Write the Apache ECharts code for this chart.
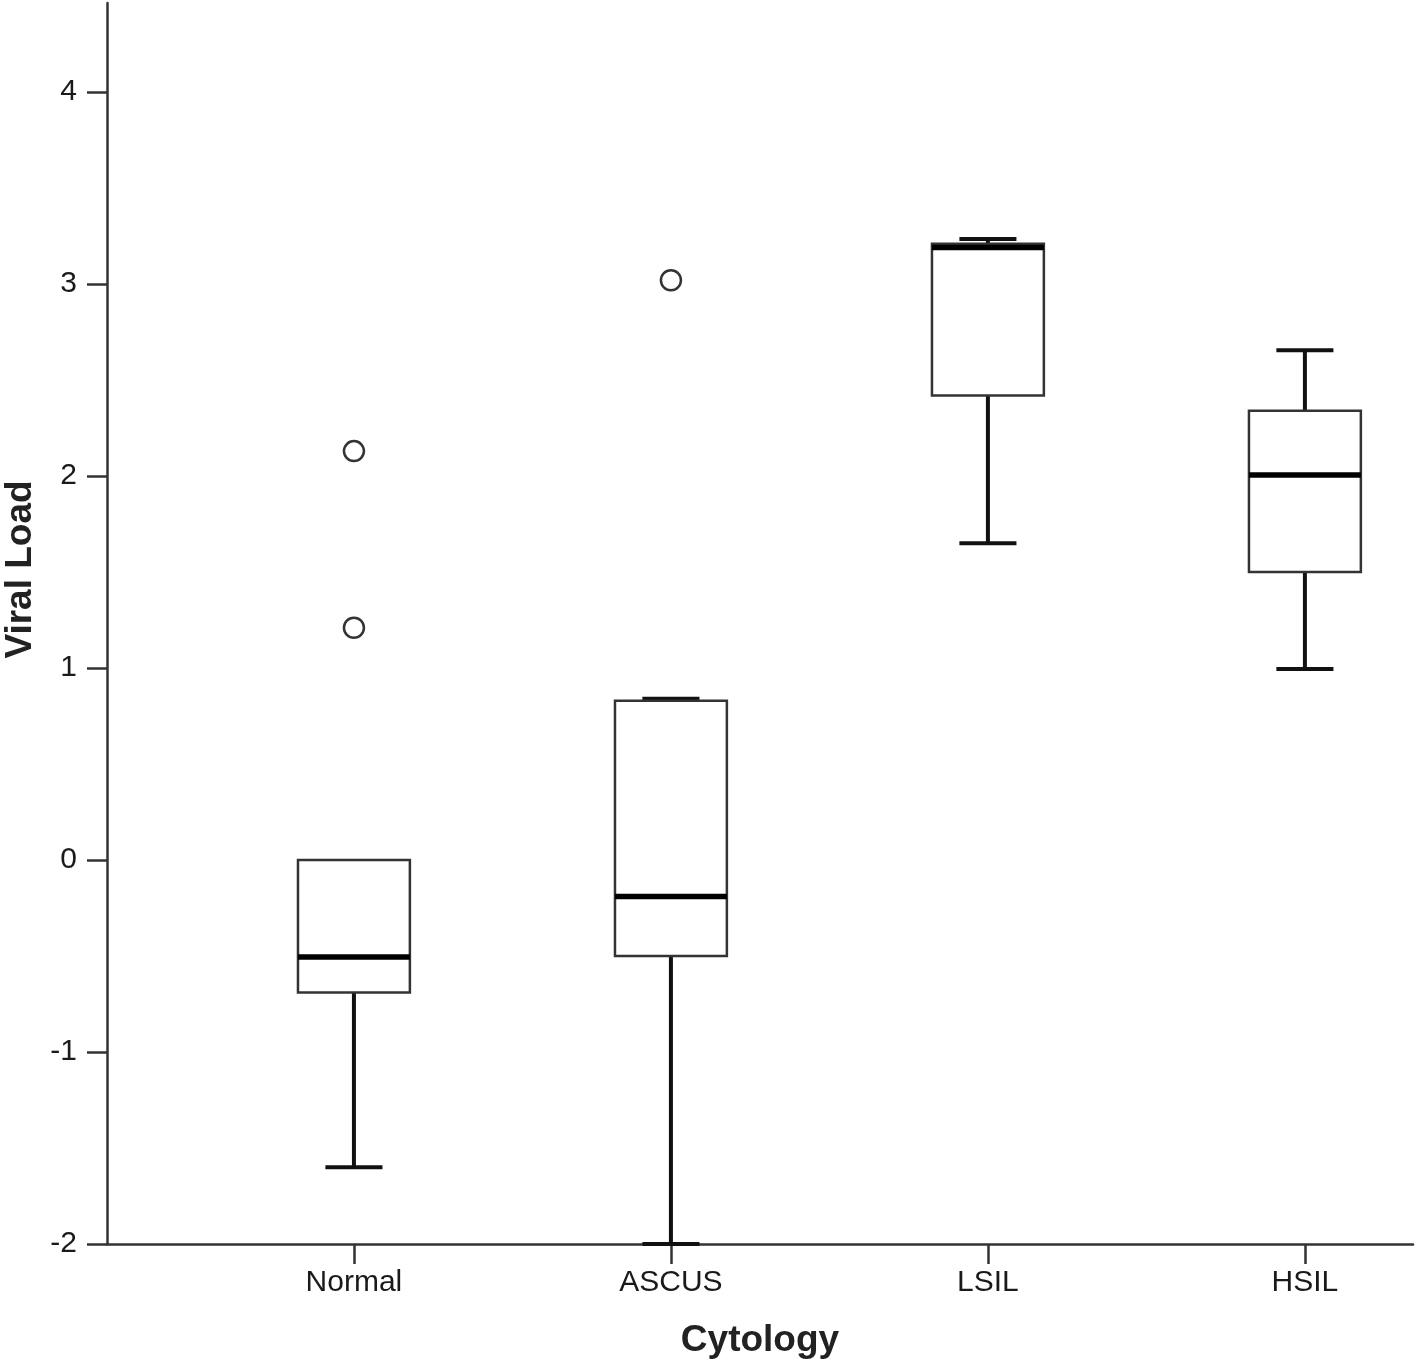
<!DOCTYPE html>
<html>
<head>
<meta charset="utf-8">
<script src="https://cdn.jsdelivr.net/npm/echarts@6/dist/echarts.min.js"></script>
<style>
  html, body { margin: 0; padding: 0; background: #ffffff; }
  #chart { width: 1418px; height: 1365px; }
</style>
</head>
<body>
<div id="chart"></div>
<script>
// ---- Data ----
const categories = ['Normal', 'ASCUS', 'LSIL', 'HSIL'];
const whiskerLow  = [-1.60, -2.00, 1.65, 0.995];
const q1          = [-0.69, -0.50, 2.42, 1.50];
const median      = [-0.505, -0.19, 3.19, 2.005];
const q3          = [0.00, 0.83, 3.21, 2.34];
const whiskerHigh = [0.00, 0.84, 3.235, 2.655];
// outliers: [category index, value]
const outliers = [[0, 2.13], [0, 1.21], [1, 3.02]];
const yTicks = [-2, -1, 0, 1, 2, 3, 4];
const xTicks = [0, 1, 2, 3];

const boxRows = categories.map((c, i) => [i, whiskerLow[i], q1[i], median[i], q3[i], whiskerHigh[i]]);

const chart = echarts.init(document.getElementById('chart'), null, { renderer: 'canvas' });

const axisColor = '#333333';
const labelFont = { fontFamily: 'Liberation Sans, Arial, sans-serif', fontSize: 30, color: '#1a1a1a' };
const nameFont = { fontFamily: 'Liberation Sans, Arial, sans-serif', fontSize: 37, fontWeight: 'bold', color: '#222222' };

function renderBox(params, api) {
  const x = api.value(0);
  const low = api.value(1), lq = api.value(2), med = api.value(3), uq = api.value(4), high = api.value(5);
  const pLow = api.coord([x, low]);
  const pQ1 = api.coord([x, lq]);
  const pMed = api.coord([x, med]);
  const pQ3 = api.coord([x, uq]);
  const pHigh = api.coord([x, high]);
  const unit = api.size([1, 0])[0];
  const bw = unit * 0.353;
  const cw = unit * 0.18;
  const cx = pQ1[0];
  const whiskerStyle = { stroke: '#111111', lineWidth: 4, fill: null };
  const children = [];
  if (low < lq) {
    children.push({ type: 'line', shape: { x1: cx, y1: pQ1[1], x2: cx, y2: pLow[1] }, style: whiskerStyle });
    children.push({ type: 'line', shape: { x1: cx - cw / 2, y1: pLow[1], x2: cx + cw / 2, y2: pLow[1] }, style: whiskerStyle });
  }
  if (high > uq) {
    children.push({ type: 'line', shape: { x1: cx, y1: pQ3[1], x2: cx, y2: pHigh[1] }, style: whiskerStyle });
    children.push({ type: 'line', shape: { x1: cx - cw / 2, y1: pHigh[1], x2: cx + cw / 2, y2: pHigh[1] }, style: whiskerStyle });
  }
  children.push({
    type: 'rect',
    shape: { x: cx - bw / 2, y: pQ3[1], width: bw, height: pQ1[1] - pQ3[1] },
    style: { fill: '#ffffff', stroke: '#333333', lineWidth: 2.5 }
  });
  children.push({
    type: 'line',
    shape: { x1: cx - bw / 2, y1: pMed[1], x2: cx + bw / 2, y2: pMed[1] },
    style: { stroke: '#000000', lineWidth: 5.5 }
  });
  return { type: 'group', children: children };
}

const option = {
  animation: false,
  backgroundColor: '#ffffff',
  grid: { left: 107, right: 5, top: 3, bottom: 121, containLabel: false, outerBoundsMode: 'none' },
  xAxis: {
    type: 'value',
    min: -0.779,
    max: 3.341,
    name: 'Cytology',
    nameLocation: 'middle',
    nameGap: 78,
    nameTextStyle: nameFont,
    axisLine: { show: true, onZero: false, lineStyle: { color: axisColor, width: 2.5 } },
    axisTick: { show: true, length: 20, inside: false, customValues: xTicks, lineStyle: { color: axisColor, width: 2.5 } },
    axisLabel: {
      show: true,
      customValues: xTicks,
      margin: 24,
      formatter: (v) => categories[Math.round(v)] || '',
      ...labelFont
    },
    splitLine: { show: false }
  },
  yAxis: {
    type: 'value',
    min: -2,
    max: 4.464,
    name: 'Viral Load',
    nameLocation: 'middle',
    nameGap: 66,
    nameRotate: 90,
    nameTextStyle: Object.assign({}, nameFont, { padding: [0, 0, 0, 108] }),
    axisLine: { show: true, onZero: false, lineStyle: { color: axisColor, width: 2.5 } },
    axisTick: { show: true, length: 20, inside: false, customValues: yTicks, lineStyle: { color: axisColor, width: 2.5 } },
    axisLabel: {
      show: true,
      customValues: yTicks,
      margin: 30,
      formatter: (v) => String(Math.round(v)),
      ...labelFont
    },
    splitLine: { show: false }
  },
  series: [
    {
      type: 'custom',
      name: 'box',
      renderItem: renderBox,
      encode: { x: 0, y: [1, 2, 3, 4, 5] },
      data: boxRows,
      z: 2
    },
    {
      type: 'scatter',
      name: 'outliers',
      symbol: 'circle',
      symbolSize: 20,
      itemStyle: { color: '#ffffff', borderColor: '#333333', borderWidth: 2.5, opacity: 1 },
      data: outliers,
      z: 3
    }
  ]
};

chart.setOption(option);
</script>
</body>
</html>
